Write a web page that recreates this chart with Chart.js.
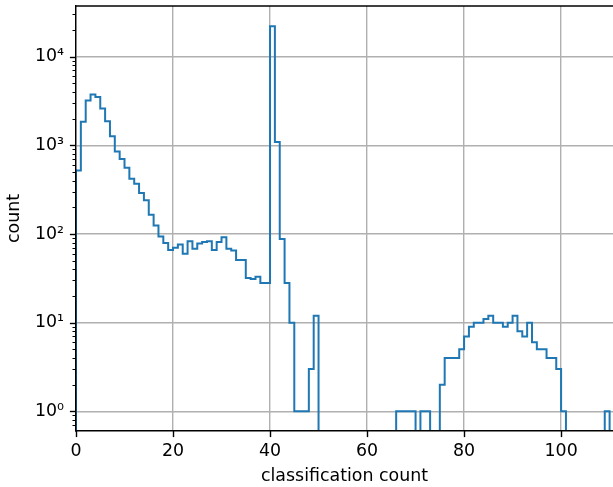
<!DOCTYPE html>
<html>
<head>
<meta charset="utf-8">
<script src="https://cdn.jsdelivr.net/npm/chart.js@4/dist/chart.umd.min.js"></script>
<style>
  html, body { margin: 0; padding: 0; background: #fff; }
  canvas { display: block; }
</style>
</head>
<body>
<canvas id="chart" width="613" height="487"></canvas>
<script>
// histogram counts, one per unit bin starting at 0
const binStart = 0
const counts = [
  520, 1850, 3200, 3750, 3500, 2600, 1870, 1270, 850, 700,
  560, 420, 370, 290, 240, 165, 125, 94, 79, 66,
  70, 76, 60, 83, 68, 78, 81, 83, 66, 81,
  92, 68, 65, 51, 51, 32, 31, 33, 28, 28,
  22000, 1090, 88, 28, 10, 1, 1, 1, 3, 12,
  0, 0, 0, 0, 0, 0, 0, 0, 0, 0,
  0, 0, 0, 0, 0, 0, 1, 1, 1, 1,
  0, 1, 1, 0, 0, 2, 4, 4, 4, 5,
  7, 9, 10, 10, 11, 12, 10, 10, 9, 10,
  12, 8, 7, 10, 6, 5, 5, 4, 4, 3,
  1, 0, 0, 0, 0, 0, 0, 0, 0, 1
]

const xTicks = [0, 20, 40, 60, 80, 100]
const yMajorTicks = [1, 10, 100, 1000, 10000]
const yTickLabels = ['10⁰', '10¹', '10²', '10³', '10⁴']
const yMinorTicks = [
  0.7, 0.8, 0.9,
  2, 3, 4, 5, 6, 7, 8, 9,
  20, 30, 40, 50, 60, 70, 80, 90,
  200, 300, 400, 500, 600, 700, 800, 900,
  2000, 3000, 4000, 5000, 6000, 7000, 8000, 9000,
  20000, 30000
]

const FONT = 'DejaVu Sans'
const FONT_SIZE = 17.4
const GRID = '#b0b0b0'

// zero bins go far below the axis, the clip cuts them off like matplotlib does
const floorValue = 0.01
const points = [{x: binStart, y: floorValue}]
counts.forEach((c, i) => points.push({x: binStart + i, y: c > 0 ? c : floorValue}))
points.push({x: binStart + counts.length, y: floorValue})

const ticksAndSpine = {
  id: 'ticksAndSpine',
  afterDraw(chart) {
    const {ctx, chartArea} = chart
    const xs = chart.scales.x
    const ys = chart.scales.y
    ctx.save()
    ctx.strokeStyle = '#000'
    // top spine
    ctx.lineWidth = 1.4
    ctx.beginPath()
    ctx.moveTo(chartArea.left, chartArea.top)
    ctx.lineTo(chartArea.right, chartArea.top)
    ctx.stroke()
    // x ticks
    for (const v of xTicks) {
      const px = Math.round(xs.getPixelForValue(v)) + 0.5
      ctx.beginPath()
      ctx.moveTo(px, chartArea.bottom)
      ctx.lineTo(px, chartArea.bottom + 6.1)
      ctx.stroke()
    }
    // y major ticks
    for (const v of yMajorTicks) {
      const py = Math.round(ys.getPixelForValue(v)) + 0.5
      ctx.beginPath()
      ctx.moveTo(chartArea.left, py)
      ctx.lineTo(chartArea.left - 6.1, py)
      ctx.stroke()
    }
    // y minor ticks
    ctx.lineWidth = 1
    for (const v of yMinorTicks) {
      const py = Math.round(ys.getPixelForValue(v)) + 0.5
      ctx.beginPath()
      ctx.moveTo(chartArea.left, py)
      ctx.lineTo(chartArea.left - 3.5, py)
      ctx.stroke()
    }
    ctx.restore()
  }
}

new Chart(document.getElementById('chart'), {
  type: 'line',
  data: {
    datasets: [{
      label: 'count',
      data: points,
      stepped: true,
      borderColor: '#1f77b4',
      borderWidth: 2,
      pointRadius: 0,
      fill: false,
      tension: 0
    }]
  },
  options: {
    responsive: false,
    animation: false,
    devicePixelRatio: 1,
    layout: {
      padding: {top: 6, right: 0, bottom: 0, left: 0}
    },
    plugins: {
      legend: {display: false},
      tooltip: {enabled: false}
    },
    scales: {
      x: {
        type: 'linear',
        min: 0,
        max: 110.7,
        afterFit: scale => {
          scale.height = 56
          scale.paddingLeft = 0
          scale.paddingRight = 0
        },
        afterBuildTicks: scale => { scale.ticks = xTicks.map(v => ({value: v})) },
        ticks: {
          font: {family: FONT, size: FONT_SIZE},
          color: '#000',
          padding: 10,
          maxRotation: 0,
          autoSkip: false,
          callback: v => String(v)
        },
        grid: {color: GRID, lineWidth: 1.4, drawTicks: false},
        border: {display: true, color: '#000', width: 1.4, z: 1},
        title: {
          display: true,
          text: 'classification count',
          color: '#000',
          font: {family: FONT, size: FONT_SIZE, lineHeight: 1.2},
          padding: {top: 0, bottom: 0}
        }
      },
      y: {
        type: 'logarithmic',
        min: 0.6,
        max: 37300,
        afterFit: scale => {
          scale.width = 76
          scale.paddingTop = 0
          scale.paddingBottom = 0
        },
        afterBuildTicks: scale => { scale.ticks = yMajorTicks.map(v => ({value: v})) },
        ticks: {
          font: {family: FONT, size: FONT_SIZE},
          color: '#000',
          padding: 12,
          autoSkip: false,
          callback: v => {
            const i = yMajorTicks.indexOf(v)
            return i >= 0 ? yTickLabels[i] : ''
          }
        },
        grid: {color: GRID, lineWidth: 1.4, drawTicks: false},
        border: {display: true, color: '#000', width: 1.4, z: 1},
        title: {
          display: true,
          text: 'count',
          color: '#000',
          font: {family: FONT, size: FONT_SIZE, lineHeight: 1.2},
          padding: {top: 4, bottom: 0}
        }
      }
    }
  },
  plugins: [ticksAndSpine]
})
</script>
</body>
</html>
